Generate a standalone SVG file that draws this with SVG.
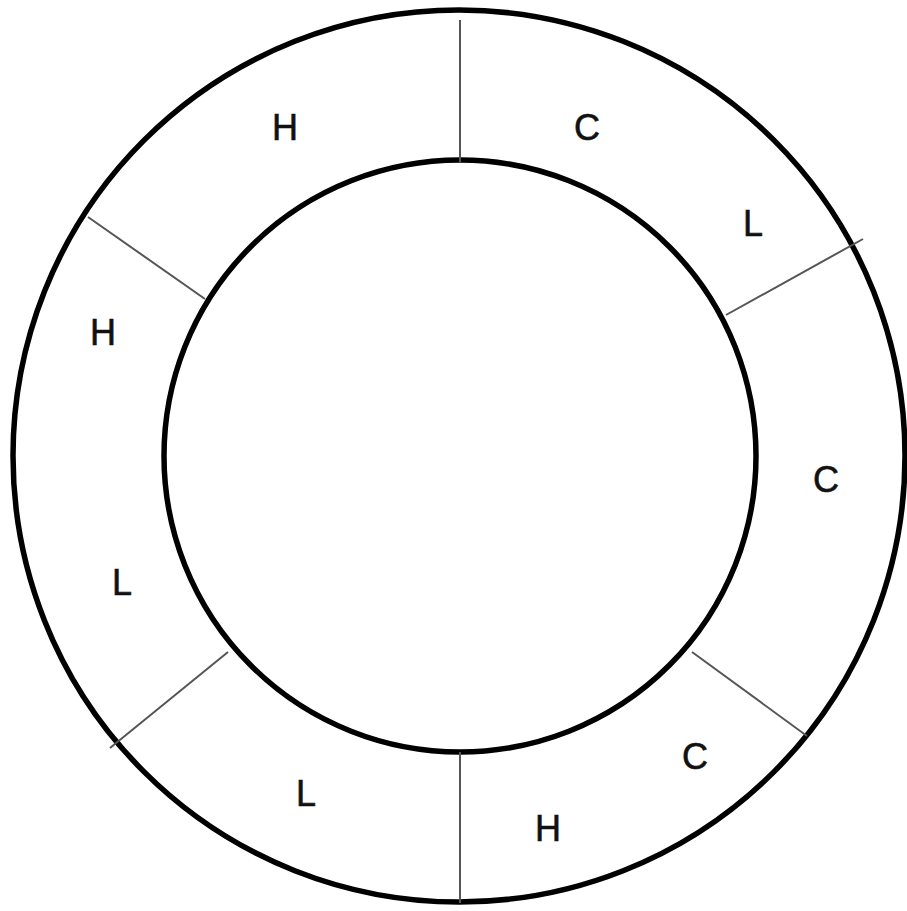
<svg xmlns="http://www.w3.org/2000/svg" width="907" height="911" viewBox="0 0 907 911">
<style>
.ring{fill:none;stroke:#000;stroke-width:5.5}
.div{stroke:#555;stroke-width:2;fill:none}
.lbl{font-family:"Liberation Sans",Arial,sans-serif;font-size:36px;fill:#111;stroke:#111;stroke-width:0.6;text-anchor:middle}
</style>
<rect width="907" height="911" fill="#fff"/>
<g id="outer"><circle class="ring" cx="459" cy="456" r="446"/></g>
<g id="inner"><circle class="ring" cx="460" cy="456" r="296"/></g>
<g id="connectors">
<line class="div" x1="460" y1="20" x2="460" y2="162"/>
<line class="div" x1="863" y1="239" x2="726" y2="315"/>
<line class="div" x1="692" y1="652" x2="807" y2="736"/>
<line class="div" x1="460" y1="752" x2="460" y2="903"/>
<line class="div" x1="228" y1="652" x2="110" y2="748"/>
<line class="div" x1="88" y1="217" x2="205" y2="299"/>
</g>
<g id="labels">
<text class="lbl" x="285" y="140">H</text>
<text class="lbl" x="587" y="140">C</text>
<text class="lbl" x="753" y="236">L</text>
<text class="lbl" x="103" y="345">H</text>
<text class="lbl" x="826" y="492">C</text>
<text class="lbl" x="122" y="595">L</text>
<text class="lbl" x="695" y="769">C</text>
<text class="lbl" x="306" y="806">L</text>
<text class="lbl" x="548" y="841">H</text>
</g>
</svg>
